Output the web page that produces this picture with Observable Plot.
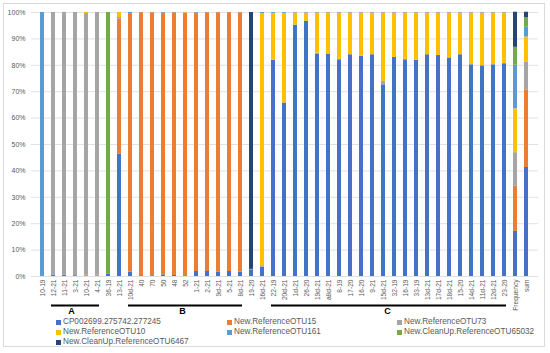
<!DOCTYPE html>
<html><head><meta charset="utf-8">
<script src="https://cdn.jsdelivr.net/npm/d3@7"></script>
<script src="https://cdn.jsdelivr.net/npm/@observablehq/plot@0.6"></script>
<style>
html,body{margin:0;padding:0;background:#fff;}
#wrap{position:relative;width:550px;height:353px;overflow:hidden;font-family:"Liberation Sans",Arial,sans-serif;}
#chart{position:absolute;left:0;top:0;}
#border{position:absolute;left:3px;top:3px;width:542px;height:344px;border:1px solid #d9d9d9;box-sizing:border-box;pointer-events:none;}
#legend{position:absolute;left:56px;top:317px;display:grid;grid-template-columns:171px 170px 150px;font-size:8.2px;color:#595959;line-height:10px;}
.item{white-space:nowrap;display:flex;align-items:center;height:10px;}
.sw{width:5px;height:5px;margin-right:2px;display:inline-block;flex:none;}
</style></head><body>
<div id="wrap"><div id="chart"></div><div id="legend"></div><div id="border"></div></div>
<script>
const categories = ["10-19","12-21","11-21","3-21","10-21","4-21","36-19","13-21","10d-21","40","70","50","48","52","1-21","2-21","9d-21","5-21","8d-21","19-20","16d-21","22-19","20d-21","1d-21","26-20","19d-21","a8d-21","8-19","17-20","16-20","9-21","15d-21","32-19","16-19","33-19","13d-21","17d-21","18d-21","15-20","14d-21","11d-21","12d-21","23-20","Frequency","sum"];

const seriesNames = ["CP002699.275742.277245","New.ReferenceOTU15","New.ReferenceOTU73","New.ReferenceOTU10","New.ReferenceOTU161","New.CleanUp.ReferenceOTU65032","New.CleanUp.ReferenceOTU6467"];
const seriesColors = ["#4472C4","#ED7D31","#A5A5A5","#FFC000","#5B9BD5","#70AD47","#264478"];

const cp002699 = [0,0.5,0.5,0.3,0.2,0.2,0.8,46.4,1.7,0.3,0.3,0.6,0.4,0.3,1.9,1.9,1.6,1.9,1.7,2.3,3.5,81.9,65.7,95.2,96.7,84.3,84.3,82.1,84.0,83.4,84.0,72.6,83.0,82.1,81.9,84.0,83.7,82.8,84.0,80.2,79.8,80.2,80.6,17.1,41.3];
const otu15 = [0,0,0,0,0.4,0.3,0,51.2,97.9,99.6,99.6,99.2,99.5,99.5,97.9,98.0,98.3,98.0,98.2,0.4,0,0,0,0,0,0,0,0,0,0,0,0,0,0,0,0,0,0,0,0,0,0,0,17.1,29.4];
const otu73 = [0,99.5,99.5,99.7,99.0,99.5,0,0.5,0,0,0,0,0,0,0,0,0,0,0,0,0.6,0,0,0,0,0.3,0,0,0,0,0,1.3,0,0,0,0,0,0,0,0,0,0,0,12.7,10.6];
const otu10 = [0,0,0,0,0.4,0,0,1.9,0,0,0,0,0,0.2,0,0,0,0,0,0,95.4,17.8,34.0,4.6,3.1,15.2,15.5,17.7,15.8,16.4,15.8,25.9,16.8,17.7,17.9,15.8,16.1,17.0,15.8,19.6,20.0,19.6,19.2,16.6,9.4];
const otu161 = [100,0,0,0,0,0,0,0,0.4,0.1,0.1,0.2,0.1,0,0.2,0.1,0.1,0.1,0.1,0,0.5,0.3,0.3,0.2,0.2,0.2,0.2,0.2,0.2,0.2,0.2,0.2,0.2,0.2,0.2,0.2,0.2,0.2,0.2,0.2,0.2,0.2,0.2,16.5,3.7];
const otu65032 = [0,0,0,0,0,0,99.2,0,0,0,0,0,0,0,0,0,0,0,0,0,0,0,0,0,0,0,0,0,0,0,0,0,0,0,0,0,0,0,0,0,0,0,0,6.8,3.6];
const otu6467 = [0,0,0,0,0,0,0,0,0,0,0,0,0,0,0,0,0,0,0,97.3,0,0,0,0,0,0,0,0,0,0,0,0,0,0,0,0,0,0,0,0,0,0,0,13.3,2.1];

const yTicks = [0,10,20,30,40,50,60,70,80,90,100];

const groupLabels = ["A","B","C"];
const groupStart = ["12-21","10d-21","22-19"];
const groupEnd = ["4-21","8d-21","23-20"];
const groupMid = ["3-21","52","15d-21"];

const seriesValues = [cp002699, otu15, otu73, otu10, otu161, otu65032, otu6467];
const data = [];
seriesNames.forEach((s, si) => {
  categories.forEach((c, ci) => data.push({cat: c, series: s, value: seriesValues[si][ci]}));
});
const groups = groupLabels.map((g, i) => ({label: g, x1: groupStart[i], x2: groupEnd[i], mid: groupMid[i], y: -11, ty: -13.2}));

const chart = Plot.plot({
  width: 550,
  height: 322,
  marginTop: 12,
  marginBottom: 46,
  marginLeft: 31,
  marginRight: 12,
  style: {fontFamily: "Liberation Sans, Arial, sans-serif", background: "transparent"},
  x: {type: "band", domain: categories, padding: 0.6, align: 0.5},
  y: {domain: [0, 100]},
  color: {domain: seriesNames, range: seriesColors},
  marks: [
    Plot.gridY(yTicks, {stroke: "#d9d9d9", strokeOpacity: 1, strokeWidth: 0.8}),
    Plot.barY(data, {x: "cat", y: "value", fill: "series"}),
    Plot.axisY(yTicks, {tickSize: 0, tickPadding: 6, tickFormat: d => d + "%", fontSize: 7, color: "#595959", label: null}),
    Plot.axisX({tickRotate: -90, tickSize: 0, tickPadding: 3, fontSize: 6.6, color: "#595959", label: null}),
    Plot.ruleY(groups, {y: "y", x1: "x1", x2: "x2", stroke: "#000", strokeWidth: 2}),
    Plot.text(groups.slice(0,1), {x: "mid", y: "ty", text: "label", dx: -4, fontSize: 9, fontWeight: "bold", fill: "#000"}),
    Plot.text(groups.slice(1,2), {x: "mid", y: "ty", text: "label", dx: -3, fontSize: 9, fontWeight: "bold", fill: "#000"}),
    Plot.text(groups.slice(2,3), {x: "mid", y: "ty", text: "label", dx: 4, fontSize: 9, fontWeight: "bold", fill: "#000"})
  ]
});
document.getElementById("chart").appendChild(chart);

const legend = document.getElementById("legend");
seriesNames.forEach((s, i) => {
  const it = document.createElement("div");
  it.className = "item";
  const sw = document.createElement("span");
  sw.className = "sw";
  sw.style.background = seriesColors[i];
  it.appendChild(sw);
  it.appendChild(document.createTextNode(s));
  legend.appendChild(it);
});
</script>
</body></html>
